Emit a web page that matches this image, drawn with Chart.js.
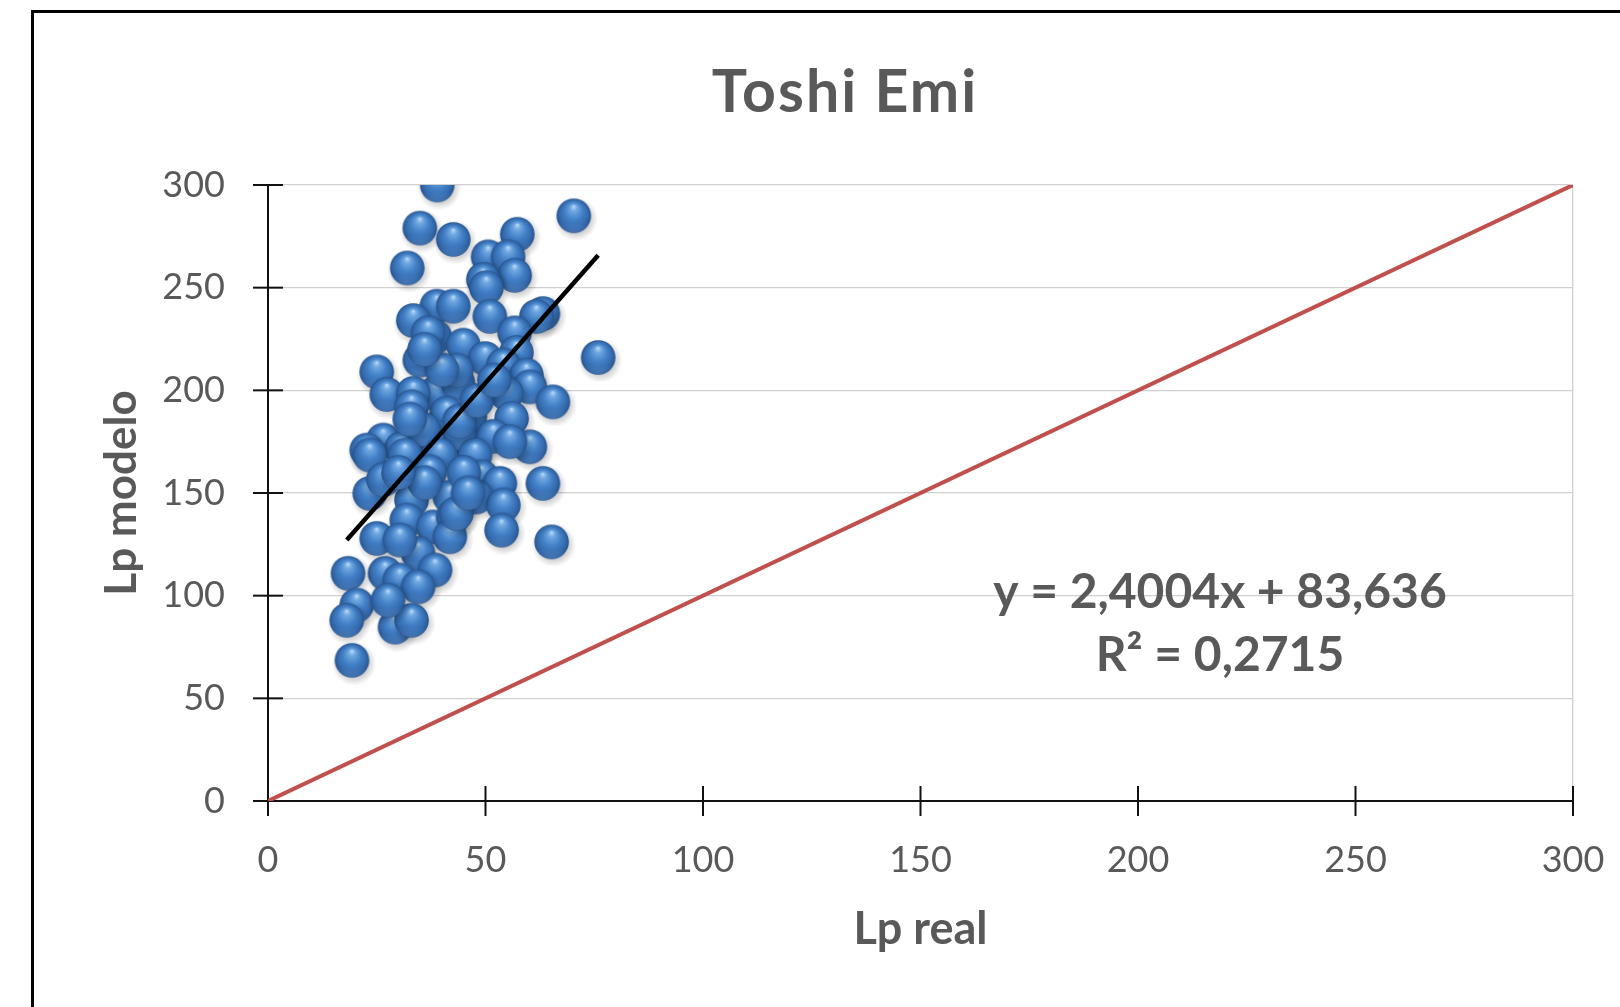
<!DOCTYPE html>
<html><head><meta charset="utf-8">
<script src="https://cdn.jsdelivr.net/npm/chart.js@4.4.1/dist/chart.umd.min.js"></script>
<style>
html,body{margin:0;padding:0;background:#fff;overflow:hidden}
#wrap{position:relative;width:1620px;height:1007px}
#frame{position:absolute;left:31px;top:10px;width:1700px;height:1100px;border-left:3px solid #000;border-top:3px solid #000;pointer-events:none}
canvas{display:block}
</style></head><body>
<div id="wrap"><canvas id="c" width="1620" height="1007"></canvas><div id="frame"></div></div>
<script>
const chartTitle = 'Toshi Emi';
const xAxisTitle = 'Lp real';
const yAxisTitle = 'Lp modelo';
const axisTicks = [0, 50, 100, 150, 200, 250, 300];
const lpReal = [38.9,70.3,34.9,42.6,57.3,32,50.6,55.2,56.7,49.5,50.2,38.8,42.6,33.4,51,63.2,61.7,56.7,38.4,36.8,44.9,57.1,75.9,25,27.3,34.9,49.9,54.1,59.4,60.2,38.4,33.4,43.7,43.3,65.5,54.8,56,46.4,41.1,33,26.5,30.7,38.8,47.2,60.2,22.7,44.1,35.7,32.6,51.8,55.6,23.4,31.5,39.5,47.6,37.2,49.1,53.3,63.2,23.4,33,41.8,47.9,54.1,31.9,38,42.6,41.8,25,53.7,65.2,34.5,30.3,26.9,38.4,18.4,30.3,34.5,20.4,18.1,29.2,33,19.3,27.6,26.5,43.3,45,36,44,48,40,30,46,52,36];
const lpModelo = [300,285,279,273.5,276,259.6,265,265,256,254,250,241,241,234,236,237.4,236,228,226,228,222,218.4,216,209,198,214.7,215.5,212.3,207.4,201.7,198.5,198.5,203.4,209.8,194.4,198.5,186.3,187.1,188.8,192,175.8,171.7,172.5,170.9,172.5,170.9,179,181,186,177.6,175,168.5,168.5,168.5,168.5,160.3,157.9,154.7,154.7,149.8,146.5,148.1,148.1,144.1,136.8,133.5,138.4,128.7,127.9,131.9,126.2,120.6,127.1,110.9,112.5,110.9,107.6,104.3,95.4,88,84.7,88,68.5,97.8,156.5,140,160,155,185,195,210,160,150,205,220];
const trendSlope = 2.4004;
const trendIntercept = 83.636;
const equationLines = ['y = 2,4004x + 83,636', 'R\u00B2 = 0,2715'];
const refLineX = [0, 300];
const refLineY = [0, 300];

const TEXT = '#595959';
const FONT = 'Lato, "Open Sans", sans-serif';

function makeSphere(r) {
  const pad = 7;
  const s = Math.ceil(2 * r + 2 * pad);
  const cv = document.createElement('canvas');
  cv.width = s; cv.height = s;
  const g = cv.getContext('2d');
  const cx = s / 2, cy = s / 2;
  const sh = g.createRadialGradient(cx + 2, cy + 3, r * 0.6, cx + 2, cy + 3, r + 5);
  sh.addColorStop(0, 'rgba(0,0,0,0.28)');
  sh.addColorStop(1, 'rgba(0,0,0,0)');
  g.fillStyle = sh;
  g.beginPath(); g.arc(cx + 2, cy + 3, r + 5, 0, Math.PI * 2); g.fill();
  const gr = g.createRadialGradient(cx, cy - r * 0.55, 0.5, cx, cy, r);
  gr.addColorStop(0, '#B2D6F7');
  gr.addColorStop(0.18, '#6EA6E0');
  gr.addColorStop(0.5, '#4381C8');
  gr.addColorStop(0.82, '#3469AB');
  gr.addColorStop(1, '#25528C');
  g.fillStyle = gr;
  g.beginPath(); g.arc(cx, cy, r, 0, Math.PI * 2); g.fill();
  const lg = g.createLinearGradient(0, cy + r, 0, cy + r * 0.4);
  lg.addColorStop(0, 'rgba(120,170,230,0.35)');
  lg.addColorStop(1, 'rgba(120,170,230,0)');
  g.fillStyle = lg;
  g.beginPath(); g.arc(cx, cy, r - 0.5, 0, Math.PI * 2); g.fill();
  return cv;
}
const sphere = makeSphere(17.3);

const scatterPts = lpReal.map((x, i) => ({x, y: lpModelo[i]}));
const xMin = Math.min(...lpReal), xMax = Math.max(...lpReal);
const trendPts = [xMin, xMax].map(x => ({x, y: trendSlope * x + trendIntercept}));
const refPts = refLineX.map((x, i) => ({x, y: refLineY[i]}));

const crossTicks = {
  id: 'crossTicks',
  beforeDatasetsDraw(chart) {
    const ctx = chart.ctx, xs = chart.scales.x, ys = chart.scales.y;
    const y0 = ys.getPixelForValue(0), x0 = xs.getPixelForValue(0);
    ctx.save();
    ctx.strokeStyle = '#111'; ctx.lineWidth = 2;
    axisTicks.forEach(v => {
      const px = xs.getPixelForValue(v);
      ctx.beginPath(); ctx.moveTo(px, y0 - 15); ctx.lineTo(px, y0 + 15); ctx.stroke();
      const py = ys.getPixelForValue(v);
      ctx.beginPath(); ctx.moveTo(x0 - 15, py); ctx.lineTo(x0 + 15, py); ctx.stroke();
    });
    ctx.restore();
  }
};
const texts = {
  id: 'texts',
  afterDatasetsDraw(chart) {
    const ctx = chart.ctx;
    ctx.save();
    ctx.fillStyle = TEXT;
    ctx.textAlign = 'center';
    ctx.textBaseline = 'alphabetic';
    ctx.font = 'bold 59px ' + FONT;
    if ('letterSpacing' in ctx) ctx.letterSpacing = '2px';
    ctx.fillText(chartTitle, 845, 112);
    if ('letterSpacing' in ctx) ctx.letterSpacing = '0px';
    ctx.font = 'bold 48px ' + FONT;
    ctx.fillText(equationLines[0], 1220, 608);
    ctx.fillText(equationLines[1], 1220, 671);
    ctx.restore();
  }
};

new Chart(document.getElementById('c'), {
  type: 'scatter',
  data: {
    datasets: [
      {type: 'line', data: trendPts, borderColor: '#000', borderWidth: 4.5, pointRadius: 0, fill: false},
      {data: scatterPts, pointStyle: sphere, pointRadius: 17.3, pointHoverRadius: 17.3},
      {type: 'line', data: refPts, borderColor: '#C0504D', borderWidth: 4, pointRadius: 0, fill: false}
    ]
  },
  options: {
    responsive: false,
    animation: false,
    events: [],
    layout: {padding: {top: 185, left: 0, right: 47, bottom: 0}},
    plugins: {
      legend: {display: false},
      tooltip: {enabled: false},
      title: {display: false}
    },
    scales: {
      x: {
        type: 'linear', min: 0, max: 300,
        afterBuildTicks: s => { s.ticks = axisTicks.map(v => ({value: v})); },
        afterFit: s => { s.height = 206; s.paddingLeft = 0; s.paddingRight = 0; },
        grid: {drawTicks: false, lineWidth: 1.3, color: c => c.tick && c.tick.value === 300 ? '#D0D0D0' : 'rgba(0,0,0,0)'},
        border: {display: true, color: '#111', width: 2},
        ticks: {color: TEXT, font: {family: FONT, size: 36}, padding: 38, maxRotation: 0},
        title: {display: true, text: xAxisTitle, color: TEXT, font: {family: FONT, size: 45, weight: 'bold'}, padding: {top: 0, bottom: 51}}
      },
      y: {
        type: 'linear', min: 0, max: 300,
        afterBuildTicks: s => { s.ticks = axisTicks.map(v => ({value: v})); },
        afterFit: s => { s.width = 268; s.paddingTop = 0; s.paddingBottom = 0; },
        grid: {drawTicks: false, lineWidth: 1.3, color: c => c.tick && c.tick.value === 0 ? 'rgba(0,0,0,0)' : '#D0D0D0'},
        border: {display: true, color: '#111', width: 2},
        ticks: {color: TEXT, font: {family: FONT, size: 36}, padding: 43},
        title: {display: true, text: yAxisTitle, color: TEXT, font: {family: FONT, size: 44, weight: 'bold'}, padding: {top: 95, bottom: 0}}
      }
    }
  },
  plugins: [crossTicks, texts]
});
</script>
</body></html>
